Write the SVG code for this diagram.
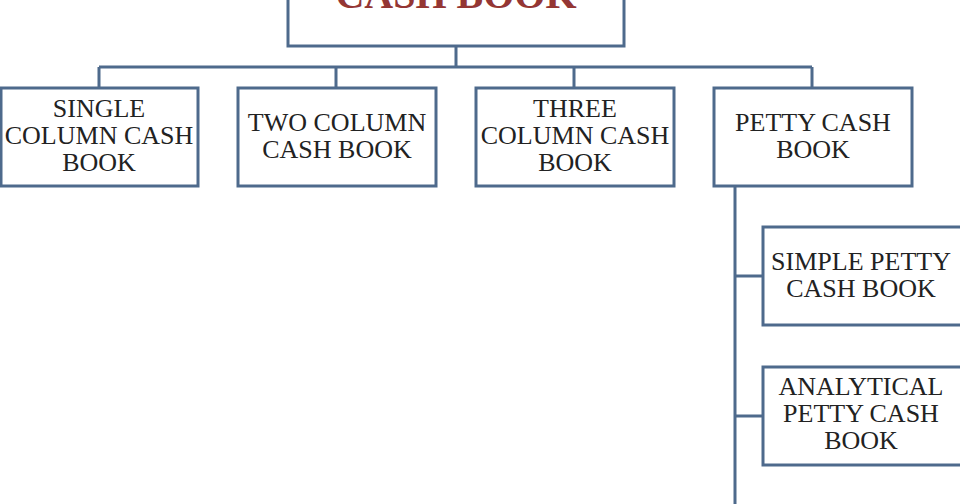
<svg xmlns="http://www.w3.org/2000/svg" width="960" height="504" viewBox="0 0 960 504">
<style>
.box{fill:#ffffff;stroke:#4e6a8c;stroke-width:3}
.ln{fill:none;stroke:#4e6a8c;stroke-width:3}
.t{font-family:"Liberation Serif","Times New Roman",serif;font-size:26px;fill:#222222;text-anchor:middle}
.title{font-family:"Liberation Serif","Times New Roman",serif;font-size:40px;font-weight:bold;fill:#943634;text-anchor:middle}
</style>
<rect width="960" height="504" fill="#ffffff"/>
<g id="connectors">
<path class="ln" d="M456 46V67M99 67H812M99 67V88M336 67V88M574 67V88M812 67V88"/>
<path class="ln" d="M735 186V504M735 276H763M735 416H763"/>
</g>
<g id="cash-book">
<rect class="box" x="288" y="-20" width="336" height="66"/>
<text class="title" x="456" y="8">CASH BOOK</text>
</g>
<g id="single-column">
<rect class="box" x="1" y="88" width="197" height="98"/>
<text class="t" x="99" y="117">SINGLE</text>
<text class="t" x="99" y="144">COLUMN CASH</text>
<text class="t" x="99" y="171">BOOK</text>
</g>
<g id="two-column">
<rect class="box" x="238" y="88" width="198" height="98"/>
<text class="t" x="337" y="131">TWO COLUMN</text>
<text class="t" x="337" y="158">CASH BOOK</text>
</g>
<g id="three-column">
<rect class="box" x="476" y="88" width="198" height="98"/>
<text class="t" x="575" y="117">THREE</text>
<text class="t" x="575" y="144">COLUMN CASH</text>
<text class="t" x="575" y="171">BOOK</text>
</g>
<g id="petty-cash">
<rect class="box" x="714" y="88" width="198" height="98"/>
<text class="t" x="813" y="131">PETTY CASH</text>
<text class="t" x="813" y="158">BOOK</text>
</g>
<g id="simple-petty">
<rect class="box" x="763" y="227" width="210" height="98"/>
<text class="t" x="861" y="270">SIMPLE PETTY</text>
<text class="t" x="861" y="297">CASH BOOK</text>
</g>
<g id="analytical-petty">
<rect class="box" x="763" y="367" width="210" height="98"/>
<text class="t" x="861" y="395">ANALYTICAL</text>
<text class="t" x="861" y="422">PETTY CASH</text>
<text class="t" x="861" y="449">BOOK</text>
</g>
</svg>
